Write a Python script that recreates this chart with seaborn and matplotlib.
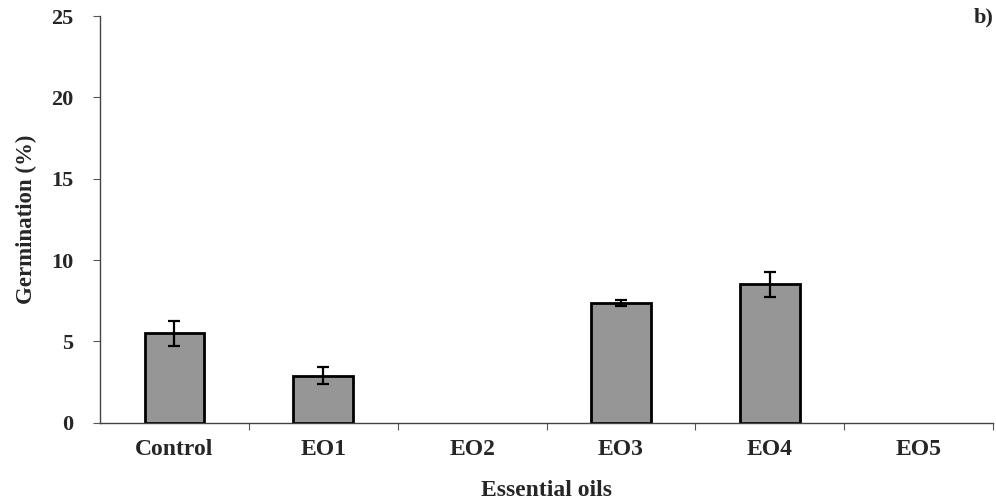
import numpy as np
import pandas as pd
import matplotlib
matplotlib.use("Agg")
import matplotlib.pyplot as plt
import seaborn as sns

# Germination of seeds under essential-oil treatments
treatments = ["Control", "EO1", "EO2", "EO3", "EO4", "EO5"]
germination = [5.5, 2.9, 0.0, 7.35, 8.5, 0.0]
std_error = [0.78, 0.55, 0.0, 0.2, 0.75, 0.0]
y_ticks = [0, 5, 10, 15, 20, 25]

sns.set_theme(style="white")
plt.rcParams["font.family"] = ["Liberation Serif", "DejaVu Serif"]
plt.rcParams["font.weight"] = "bold"

df = pd.DataFrame({"treatment": treatments, "germination": germination,
                   "se": std_error})

fig = plt.figure(figsize=(9.96, 5.03), dpi=100)
ax = fig.add_axes([0.1004, 0.1596, 0.8966, 0.8084])

sns.barplot(data=df, x="treatment", y="germination", order=treatments,
            color="#969696", saturation=1, width=0.40,
            edgecolor="black", linewidth=2.0, errorbar=None, ax=ax)

# hide outlines of empty bars so they don't thicken the baseline
for patch in ax.patches:
    if patch.get_height() == 0:
        patch.set_linewidth(0)

# error bars only where there is a spread to show
with_err = df[df["se"] > 0]
ax.errorbar(with_err["treatment"], with_err["germination"], yerr=with_err["se"],
            fmt="none", ecolor="black", elinewidth=1.6, capsize=4, capthick=1.6)

ax.set_xlim(-0.5, len(treatments) - 0.5)
ax.set_ylim(0, 25)
ax.set_yticks(y_ticks)
ax.set_yticklabels([str(v) for v in y_ticks], fontsize=16, fontweight="bold")
ax.set_xticks(range(len(treatments)))
ax.set_xticklabels(treatments, fontsize=17, fontweight="bold")
ax.set_xticks(np.arange(0.5, len(treatments)), minor=True)
ax.tick_params(axis="x", which="major", length=0, pad=12)
ax.tick_params(axis="x", which="minor", length=5, width=0.8,
               direction="out", color="#555555", bottom=True)
ax.tick_params(axis="y", which="major", length=5, width=0.8,
               direction="out", color="#555555", left=True, pad=14)

for side in ["top", "right"]:
    ax.spines[side].set_visible(False)
for side in ["left", "bottom"]:
    ax.spines[side].set_color("#444444")
    ax.spines[side].set_linewidth(1.0)

ax.set_ylabel("Germination (%)", fontsize=16.5, fontweight="bold", labelpad=10)
ax.set_xlabel("Essential oils", fontsize=17, fontweight="bold", labelpad=14)

fig.text(0.998, 0.955, "b)", fontsize=16, fontweight="bold", ha="right")

fig.savefig("out.png", dpi=100)
